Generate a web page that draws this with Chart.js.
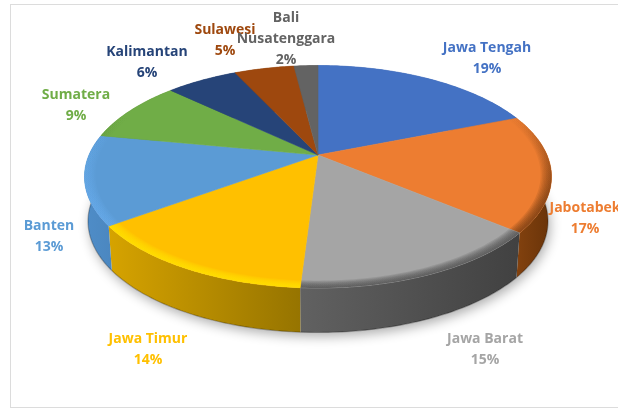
<!DOCTYPE html>
<html>
<head>
<meta charset="utf-8">
<title>Distribusi per wilayah</title>
<script src="https://cdn.jsdelivr.net/npm/chart.js@4"></script>
<style>
    html, body { margin: 0; padding: 0; background: #fff; overflow: hidden; }
    canvas { display: block; }
</style>
</head>
<body>
<canvas id="pie3d" width="618" height="410"></canvas>
<script>
// Datos del gráfico
const categories = ['Jawa Tengah', 'Jabotabek', 'Jawa Barat', 'Jawa Timur', 'Banten', 'Sumatera', 'Kalimantan', 'Sulawesi', 'Bali\nNusatenggara'];
const shares = [19, 17, 15, 14, 13, 9, 6, 5, 2];

// Colores de cada sector
const sliceColors = ['#4472c4', '#ed7d31', '#a5a5a5', '#ffc000', '#5b9bd5', '#70ad47', '#264478', '#9e480e', '#636363'];
const wallLeft = ['#2f5597', '#85430f', '#616161', '#d6a300', '#4f8dc8', '#4e7a30', '#1a2f54', '#6e320a', '#454545'];
const wallRight = ['#2f5597', '#683309', '#414141', '#967400', '#4b87c0', '#4e7a30', '#1a2f54', '#6e320a', '#454545'];
const rimColors = ['#35599a', '#6f380f', '#4a4a4a', '#ffe400', '#66aaea', '#57863a', '#1c335a', '#7a380b', '#4c4c4c'];

// Centro de cada etiqueta (x, primera línea y)
const labelAnchors = [[487, 48], [585, 208], [485, 339], [148, 339], [49, 226], [76, 95], [147, 52], [225, 30], [286, 18]];

// Proyección en perspectiva del disco superior
const apexX = 318, apexY = 155;
const radiusX = 229, radiusY = 107, tilt = 0.1955;
const depth = 44.5, bottomShrink = 0.985;

function project(angle, r, lowered) {
    const u = Math.cos(angle) * r, v = Math.sin(angle) * r;
    const w = 1 - tilt * v;
    const k = lowered ? bottomShrink : 1;
    return [apexX + radiusX * k * u / w, apexY + radiusY * v / w + (lowered ? depth : 0)];
}

function rimPoints(start, end, r, lowered) {
    const steps = Math.max(2, Math.ceil((end - start) * 60));
    const pts = [];
    for (let i = 0; i <= steps; i++) {
        pts.push(project(start + (end - start) * i / steps, r, lowered));
    }
    return pts;
}

function tracePath(ctx, pts, open) {
    ctx.beginPath();
    pts.forEach((p, i) => i ? ctx.lineTo(p[0], p[1]) : ctx.moveTo(p[0], p[1]));
    if (!open) ctx.closePath();
}

function withAlpha(hex, a) {
    const n = parseInt(hex.slice(1), 16);
    return `rgba(${n >> 16}, ${(n >> 8) & 255}, ${n & 255}, ${a})`;
}

// Sombra bajo el disco inferior
function drawShadow(ctx) {
    ctx.save();
    ctx.shadowColor = 'rgba(0, 0, 0, 0.32)';
    ctx.shadowBlur = 12;
    ctx.shadowOffsetX = 2;
    ctx.shadowOffsetY = 4;
    ctx.fillStyle = '#fff';
    tracePath(ctx, rimPoints(0, Math.PI * 2, 1, true));
    ctx.fill();
    ctx.restore();
}

function drawWall(ctx, arc, i) {
    const top = rimPoints(arc.startAngle, arc.endAngle, 1, false);
    const low = rimPoints(arc.startAngle, arc.endAngle, 1, true);
    const xs = top.concat(low).map(p => p[0]);
    const grad = ctx.createLinearGradient(Math.min(...xs), 0, Math.max(...xs), 0);
    grad.addColorStop(0, wallLeft[i]);
    grad.addColorStop(1, wallRight[i]);
    ctx.fillStyle = grad;
    tracePath(ctx, top.concat(low.slice().reverse()));
    ctx.fill();
    // Filo oscuro de la base
    ctx.strokeStyle = 'rgba(0, 0, 0, 0.28)';
    ctx.lineWidth = 1.2;
    tracePath(ctx, low, true);
    ctx.stroke();
}

function drawFace(ctx, arc, i) {
    const rim = rimPoints(arc.startAngle, arc.endAngle, 1, false);
    ctx.fillStyle = sliceColors[i];
    ctx.strokeStyle = sliceColors[i];
    ctx.lineWidth = 0.6;
    tracePath(ctx, [[apexX, apexY]].concat(rim));
    ctx.fill();
    ctx.stroke();

    // Bisel del borde: sólo aparece en la parte frontal del disco
    const bands = 8;
    for (let b = 0; b < bands; b++) {
        const r = 0.955 + 0.045 * b / bands;
        const inner = rimPoints(arc.startAngle, arc.endAngle, r, false);
        const grad = ctx.createLinearGradient(0, apexY - 40, 0, apexY + 45);
        grad.addColorStop(0, withAlpha(rimColors[i], 0));
        grad.addColorStop(1, withAlpha(rimColors[i], 0.16));
        ctx.fillStyle = grad;
        tracePath(ctx, inner.concat(rim.slice().reverse()));
        ctx.fill();
    }
}

function drawLabels(ctx) {
    ctx.save();
    ctx.font = "700 14px 'Open Sans', sans-serif";
    ctx.textAlign = 'center';
    ctx.textBaseline = 'middle';
    categories.forEach((name, i) => {
        const lines = name.split('\n').concat(shares[i] + '%');
        ctx.fillStyle = sliceColors[i];
        lines.forEach((line, n) => {
            ctx.fillText(line, labelAnchors[i][0], labelAnchors[i][1] + n * 20.8);
        });
    });
    ctx.restore();
}

const pie3d = {
    id: 'pie3d',
    beforeDraw(chart) {
        const ctx = chart.ctx;
        ctx.save();
        ctx.fillStyle = '#fff';
        ctx.fillRect(0, 0, chart.width, chart.height);
        ctx.strokeStyle = '#dcdcdc';
        ctx.lineWidth = 1;
        ctx.strokeRect(10.5, 4.5, 640, 403);
        ctx.restore();
    },
    // Los sectores salen de los ángulos que calcula Chart.js, ya proyectados
    beforeDatasetDraw(chart) {
        const ctx = chart.ctx;
        const arcs = chart.getDatasetMeta(0).data;
        ctx.save();
        drawShadow(ctx);
        arcs.forEach((arc, i) => drawWall(ctx, arc, i));
        arcs.forEach((arc, i) => drawFace(ctx, arc, i));
        ctx.restore();
        return false;
    },
    afterDraw(chart) {
        drawLabels(chart.ctx);
    }
};

new Chart(document.getElementById('pie3d'), {
    type: 'pie',
    data: {
        labels: categories,
        datasets: [{ data: shares, backgroundColor: sliceColors, borderWidth: 0 }]
    },
    options: {
        responsive: false,
        animation: false,
        plugins: {
            legend: { display: false },
            tooltip: { enabled: false }
        }
    },
    plugins: [pie3d]
});
</script>
</body>
</html>
